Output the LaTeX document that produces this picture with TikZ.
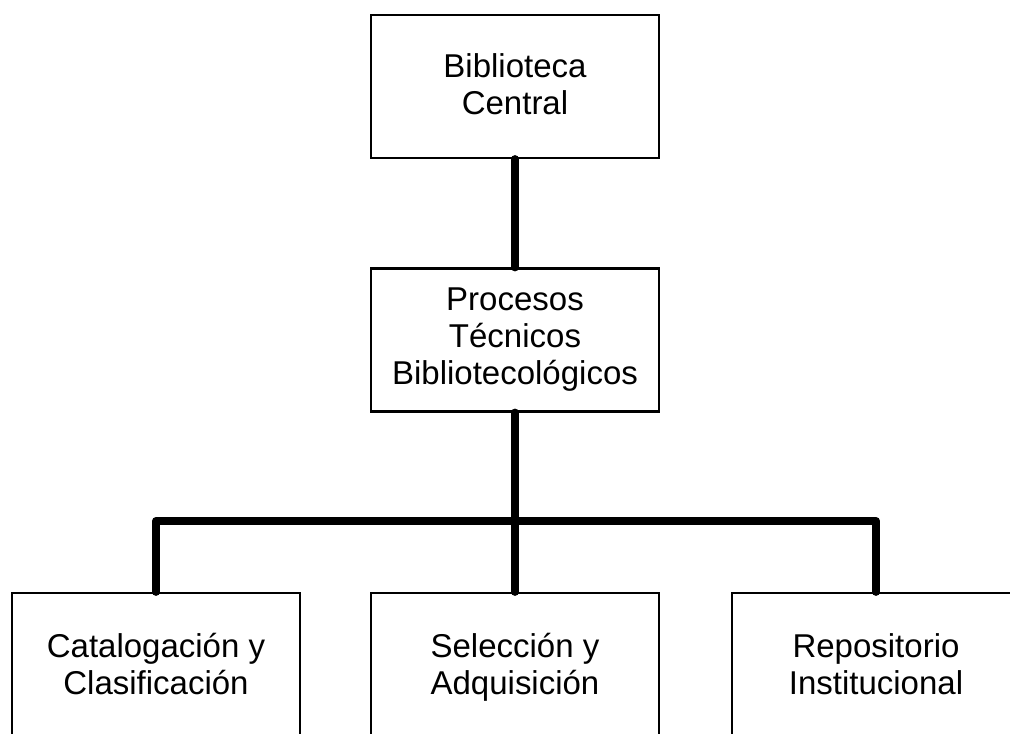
\documentclass[tikz,border=0pt]{standalone}
\usepackage{fontspec}
\setmainfont{Liberation Sans}
% strut spanning one full line of the box text
\newcommand\linestrut{\rule[-11.1pt]{0pt}{37pt}}
% taller strut for a first line, to sit the text a little lower
\newcommand\tallstrut{\rule[-11.1pt]{0pt}{42pt}}
\begin{document}
\begin{tikzpicture}[x=1pt,y=1pt,
  unitbox/.style={draw=black,line width=2.2pt,fill=white,minimum width=288pt,
    minimum height=143pt,inner sep=0pt,align=center,
    font=\fontsize{33}{37}\selectfont},
  leafbox/.style={unitbox,minimum height=152pt},
  link/.style={line width=8pt,line join=round,line cap=round}]
\useasboundingbox (0,0) rectangle (1010,-734);
\clip (0,0) rectangle (1010,-734);
\coordinate (bus) at (515,-521);
\node[unitbox] (central) at (515,-86.5) {\tallstrut Biblioteca\\Central\linestrut};
\node[unitbox] (procesos) at (515,-340) {\linestrut Procesos\\Técnicos\\Bibliotecológicos\linestrut};
\node[leafbox] (catalog) at (156,-669) {\linestrut Catalogación y\\Clasificación\linestrut};
\node[leafbox] (seleccion) at (515,-669) {\linestrut Selección y\\Adquisición\linestrut};
\node[leafbox] (repo) at (876,-669) {\linestrut Repositorio\\Institucional\linestrut};
\draw[link] (central.south) -- (procesos.north);
\draw[link] (procesos.south) -- (seleccion.north);
\draw[link] (catalog.north) |- (bus) -| (repo.north);
\end{tikzpicture}
\end{document}
